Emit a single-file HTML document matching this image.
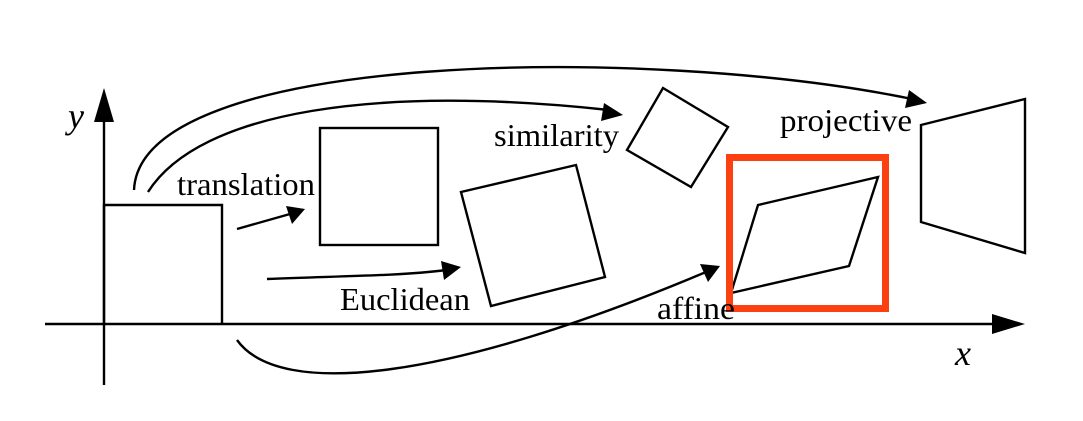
<!DOCTYPE html>
<html><head><style>
html,body{margin:0;padding:0;background:#fff;}
svg{display:block;}
text{font-family:"Liberation Serif","Times New Roman",serif;fill:#000;}
</style></head><body>
<svg width="1083" height="421" viewBox="0 0 1083 421" xmlns="http://www.w3.org/2000/svg">
<g fill="none" stroke="#000" stroke-width="2.4">
<line x1="104" y1="385" x2="104" y2="115"/>
<line x1="45" y1="324" x2="995" y2="324"/>
<polyline points="104,324 104,205 222,205 222,324"/>
<rect x="320" y="128" width="118" height="117"/>
<polygon points="461,192 576,165 605,277 491,306"/>
<polygon points="663,88 728,127 691,187 627,150"/>
<polygon points="758,205 878,177 849,266 731,293"/>
<polygon points="921,125 1025,99 1025,253 921,222"/>
<line x1="237" y1="229" x2="290" y2="214"/>
<path d="M267,279 C340,276 400,276 446,270"/>
<path d="M148,192 C200,110 380,85 609,110"/>
<path d="M134,190 C140,50 650,45 912,99"/>
<path d="M237,340 C280,400 450,380 706,272"/>
</g>
<g fill="#000">
<polygon points="104,88 94,122 114,122"/>
<polygon points="1025,324 992,314 992,334"/>
<polygon points="305,209 286,206 292,224"/>
<polygon points="461,267 441,261 444,280"/>
<polygon points="623,115 604,103 601,121"/>
<polygon points="927,103 909,90 905,108"/>
<polygon points="720,266 700,264 708,282"/>
</g>
<rect x="729.5" y="157.5" width="156" height="151" fill="none" stroke="#fc4012" stroke-width="7"/>
<g style="font-size:32px">
<text x="177" y="195" textLength="138" lengthAdjust="spacingAndGlyphs">translation</text>
<text x="494" y="146" textLength="125" lengthAdjust="spacingAndGlyphs">similarity</text>
<text x="780" y="131" textLength="132" lengthAdjust="spacingAndGlyphs">projective</text>
<text x="340" y="310" textLength="130" lengthAdjust="spacingAndGlyphs">Euclidean</text>
<text x="657" y="319" textLength="78" lengthAdjust="spacingAndGlyphs">affine</text>
</g>
<text x="68" y="128" style="font-size:36px;font-style:italic">y</text>
<text x="955" y="365" style="font-size:36px;font-style:italic">x</text>
</svg>
</body></html>
